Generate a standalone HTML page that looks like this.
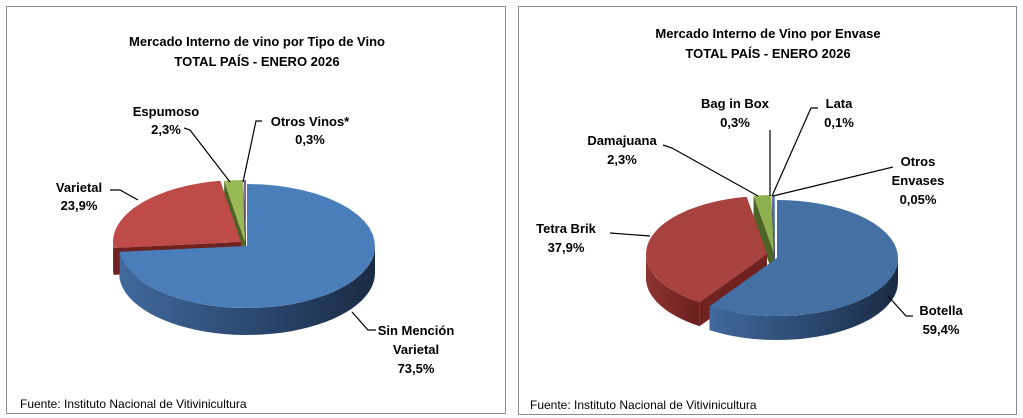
<!DOCTYPE html>
<html><head><meta charset="utf-8"><style>
html,body{margin:0;padding:0;background:#fff;}
svg{display:block;font-family:"Liberation Sans",sans-serif;}
text{font-weight:bold;font-size:13px;fill:#000;}
.f{font-weight:normal;font-size:12px;}
</style></head><body>
<svg id="s" width="1023" height="418" viewBox="0 0 1023 418" xmlns="http://www.w3.org/2000/svg">
<defs>
<linearGradient id="gb" x1="0" x2="1" y1="0" y2="0"><stop offset="0" stop-color="#41699c"/><stop offset="0.5" stop-color="#2c4a72"/><stop offset="1" stop-color="#1a2b44"/></linearGradient>
<linearGradient id="gr" x1="0" x2="1" y1="0" y2="0"><stop offset="0" stop-color="#8e3331"/><stop offset="1" stop-color="#6a1f1e"/></linearGradient>
<linearGradient id="gg" x1="0" x2="1"><stop offset="0" stop-color="#5d7a2e"/><stop offset="1" stop-color="#3f5520"/></linearGradient>
</defs>
<rect x="6.5" y="6.5" width="499" height="407" fill="#fff" stroke="#8c8c8c"/>
<rect x="518.5" y="6.5" width="498" height="408" fill="#fff" stroke="#8c8c8c"/>
<g id="p1"></g><g id="p2"></g>
<text x="257" y="46" text-anchor="middle">Mercado Interno de vino por Tipo de Vino</text>
<text x="257" y="66" text-anchor="middle">TOTAL PAÍS - ENERO 2026</text>
<text x="166" y="116" text-anchor="middle">Espumoso</text>
<text x="166" y="134" text-anchor="middle">2,3%</text>
<text x="310" y="126" text-anchor="middle">Otros Vinos*</text>
<text x="310" y="144" text-anchor="middle">0,3%</text>
<text x="79" y="192" text-anchor="middle">Varietal</text>
<text x="79" y="210" text-anchor="middle">23,9%</text>
<text x="416" y="335" text-anchor="middle">Sin Mención</text>
<text x="416" y="354" text-anchor="middle">Varietal</text>
<text x="416" y="373" text-anchor="middle">73,5%</text>
<text class="f" x="20" y="408">Fuente: Instituto Nacional de Vitivinicultura</text>
<text x="768" y="38" text-anchor="middle">Mercado Interno de Vino por Envase</text>
<text x="768" y="58" text-anchor="middle">TOTAL PAÍS - ENERO 2026</text>
<text x="735" y="108" text-anchor="middle">Bag in Box</text>
<text x="735" y="127" text-anchor="middle">0,3%</text>
<text x="839" y="108" text-anchor="middle">Lata</text>
<text x="839" y="127" text-anchor="middle">0,1%</text>
<text x="622" y="145" text-anchor="middle">Damajuana</text>
<text x="622" y="164" text-anchor="middle">2,3%</text>
<text x="918" y="166" text-anchor="middle">Otros</text>
<text x="918" y="185" text-anchor="middle">Envases</text>
<text x="918" y="204" text-anchor="middle">0,05%</text>
<text x="566" y="233" text-anchor="middle">Tetra Brik</text>
<text x="566" y="252" text-anchor="middle">37,9%</text>
<text x="941" y="315" text-anchor="middle">Botella</text>
<text x="941" y="334" text-anchor="middle">59,4%</text>
<text class="f" x="530" y="409">Fuente: Instituto Nacional de Vitivinicultura</text>
<g stroke="#000" stroke-width="1.2" fill="none">
<path d="M184,128 L190,130 L230,182"/>
<path d="M262,121 L256,121 L243,182"/>
<path d="M110,190 L120,190 L138,200"/>
<path d="M376,330 L368,330 L352,312"/>
<path d="M663,145 L672,148 L758,196"/>
<path d="M770,130 L770,196"/>
<path d="M818,108 L811,108 L772,196"/>
<path d="M893,167 L773,196"/>
<path d="M610,233 L650,236"/>
<path d="M913,316 L906,316 L888,296"/>
</g>
</svg>
<script>
function pie(g,cx,cy,rx,ry,d,sl){
  var out="";
  function P(x0,y0,a,dy){var r=a*Math.PI/180;return [x0+rx*Math.sin(r),y0-ry*Math.cos(r)+dy];}
  function arc(x0,y0,a1,a2,dy,rev){var s="",n=40;for(var i=0;i<=n;i++){var t=rev?a2-(a2-a1)*i/n:a1+(a2-a1)*i/n;var p=P(x0,y0,t,dy);s+=(i==0?"":"L")+p[0].toFixed(1)+","+p[1].toFixed(1)+" ";}return s;}
  var start=0,parts=[];
  sl.forEach(function(s){var a1=start,a2=start+s.v*3.6;start=a2;parts.push({a1:a1,a2:a2,s:s});});
  var order=sl.map(function(_,i){return i;}).sort(function(a,b){return (sl[a].z||0)-(sl[b].z||0);});
  order.forEach(function(i){var o=parts[i],s=o.s,x0=cx+(s.dx||0),y0=cy+(s.dy||0);
    [o.a1,o.a2].forEach(function(a){var p=P(x0,y0,a,0);
      out+='<path d="M'+x0+','+y0+' L'+p[0]+','+p[1]+' L'+p[0]+','+(p[1]+d)+' L'+x0+','+(y0+d)+'Z" fill="'+s.w+'"/>';});
    var b1=Math.max(o.a1,90),b2=Math.min(o.a2,270);
    if(b2>b1){out+='<path d="M'+arc(x0,y0,b1,b2,0,false)+'L'+arc(x0,y0,b1,b2,d,true)+'Z" fill="'+s.side+'"/>';}
    out+='<path d="M'+x0+','+y0+' L'+arc(x0,y0,o.a1,o.a2,0,false)+'Z" fill="'+s.c+'"/>';
  });
  document.getElementById(g).innerHTML=out;
}
pie("p1",247,246,128,62,27,[
 {v:73.5,c:"#4a7ebb",side:"url(#gb)",w:"#2a4467",z:3},
 {v:23.9,c:"#be4b48",side:"url(#gr)",w:"#6f2220",dx:-6,dy:-4,z:2},
 {v:2.3,c:"#98b954",side:"url(#gg)",w:"#4d6426",dx:-2,dy:-4,z:1},
 {v:0.3,c:"#7d60a0",side:"#4d3a63",w:"#4d3a63",dx:-1,dy:-4,z:0}
]);
pie("p2",777,258,121,58,24,[
 {v:59.4,c:"#4470a4",side:"url(#gb)",w:"#2a4467",z:3},
 {v:37.9,c:"#a8423f",side:"url(#gr)",w:"#6f2220",dx:-10,dy:-4,z:2},
 {v:2.3,c:"#8fb04f",side:"url(#gg)",w:"#4d6426",dx:-3,dy:-5,z:1},
 {v:0.3,c:"#7d60a0",side:"#4d3a63",w:"#4d3a63",dx:-2,dy:-5,z:0},
 {v:0.1,c:"#4bacc6",side:"#2f7080",w:"#2f7080",dx:-2,dy:-5,z:0}
]);
</script>
</body></html>
